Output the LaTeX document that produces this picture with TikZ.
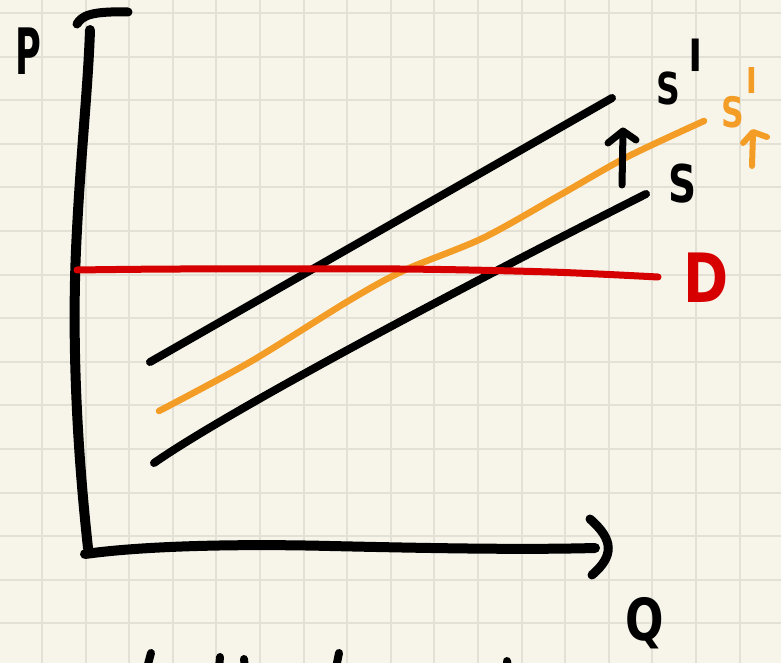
\documentclass[tikz,border=0pt]{standalone}
\usepackage{fontspec}
\setmainfont{DejaVu Sans}
\definecolor{paper}{HTML}{F7F5EA}
\definecolor{gridline}{HTML}{E3E1D6}
\definecolor{penorange}{HTML}{F39C26}
\definecolor{penred}{HTML}{D60000}
\newcommand{\handtick}[2]{\raisebox{#2}{\scalebox{1}[2]{\fontsize{#1}{#1}\selectfont\textquotesingle}}}
\begin{document}
\begin{tikzpicture}[
  x=1pt,
  y=-1pt,
  pen/.style={line cap=round, line join=round},
  label/.style={inner sep=0pt, anchor=base, font=\bfseries}
]
\useasboundingbox (0,0) rectangle (781,663);
\fill[paper] (0,0) rectangle (781,663);
\begin{scope}
\clip (0,0) rectangle (781,663);
\foreach \k in {0,...,17} {
  \draw[gridline, line width=2pt] (42+43.6*\k,0) -- (42+43.6*\k,663);
  \draw[gridline, line width=2pt] (0,13+43.6*\k) -- (781,13+43.6*\k);
}

% axes
\draw[pen, line width=10pt] (88,548) .. controls (74,420) and (73,320) .. (76,250)
  .. controls (80,160) and (88,90) .. (90,30);
\draw[pen, line width=9pt] (77,24) .. controls (82,16) and (90,11) .. (128,12);
\draw[pen, line width=10pt] (85,554) .. controls (150,545) and (250,544) .. (330,546)
  .. controls (420,548) and (520,550) .. (595,548);
\draw[pen, line width=9pt] (590,519) .. controls (614,540) and (614,556) .. (592,575);

% supply curves
\draw[pen, line width=8pt] (150,362) -- (612,98);
\draw[pen, line width=8pt] (154,463) .. controls (230,410) and (460,288) .. (646,194);
\draw[pen, line width=6.5pt, penorange] plot[smooth] coordinates
  {(159,411) (250,362) (350,300) (405,270) (483,238) (560,195) (627,157) (704,121)};

% demand
\draw[pen, line width=7pt, penred] plot[smooth] coordinates
  {(77,270) (180,269) (400,269) (550,272) (658,277)};

% shift arrows
\draw[pen, line width=7pt] (622,185) -- (623,132);
\draw[pen, line width=7pt] (608,143) -- (623,131) -- (636,140);
\draw[pen, line width=6pt, penorange] (752,166) -- (753,133);
\draw[pen, line width=6pt, penorange] (743,143) -- (753,132) -- (767,137);

% labels
\node[label] (plabel) at (28,75) {\fontsize{64}{64}\selectfont\scalebox{0.55}[1]{P}};
\node[label] (qlabel) at (645,640) {\fontsize{58}{58}\selectfont\scalebox{0.78}[1]{Q}};
\node[label, penred] (dlabel) at (706,302) {\fontsize{68}{68}\selectfont\scalebox{0.8}[1]{D}};
\node[label] (slabel) at (683,203) {\fontsize{52}{52}\selectfont\scalebox{0.75}[1]{S}};
\node[label, anchor=base west] (sprimelabel) at (656,105)
  {\fontsize{44}{44}\selectfont\scalebox{0.75}[1]{S}\hspace{7pt}\handtick{60}{-22pt}};
\node[label, anchor=base west, penorange] (sorangelabel) at (721,128)
  {\fontsize{42}{42}\selectfont\scalebox{0.75}[1]{S}\hspace{1pt}\handtick{48}{-10pt}};

% cut-off writing at the bottom edge
\draw[pen, line width=8pt] (151,653) -- (147,668);
\draw[pen, line width=8pt] (220,657) -- (219,668);
\draw[pen, line width=8pt] (244,659) -- (245,668);
\draw[pen, line width=8pt] (339,653) -- (336,668);
\draw[pen, line width=8pt] (507,661) -- (508,668);
\end{scope}
\end{tikzpicture}
\end{document}
